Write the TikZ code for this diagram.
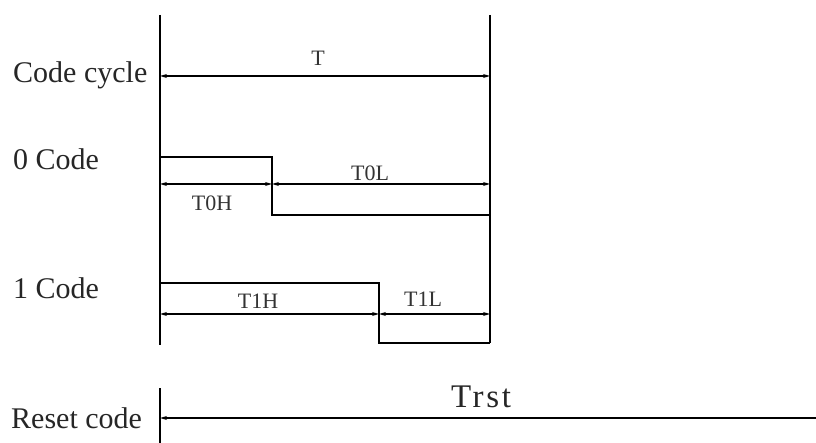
\documentclass[tikz,border=0pt]{standalone}
\usepackage{fontspec}
\setmainfont{Liberation Serif}
\newfontfamily\trstfont[LetterSpace=8]{Liberation Serif}
\usetikzlibrary{arrows.meta}

\begin{document}
\begin{tikzpicture}[x=1pt,y=-1pt,
  sig/.style={line width=1.3pt},
  dimline/.style={line width=1.6pt,{Stealth[length=7pt,width=4pt]}-{Stealth[length=7pt,width=4pt]}},
  lbl/.style={anchor=base west,inner sep=0pt,font=\fontsize{30}{36}\selectfont,text=black!85},
  tlbl/.style={anchor=base,inner sep=0pt,font=\fontsize{22}{26}\selectfont,text=black!80}]
\useasboundingbox (0,0) rectangle (816,443);

% left labels
\node[lbl](cycle) at (13,83){Code cycle};

\node[lbl](zero) at (13,170){0 Code};

\node[lbl](one) at (13,299){1 Code};

\node[lbl](reset) at (11,428){Reset code};

% frame lines
\coordinate (ltop) at (160,15);
\coordinate (lbot) at (160,345);
\coordinate (rtop) at (490,15);
\coordinate (rbot) at (490,343);
\coordinate (rsttop) at (160,388);
\coordinate (rstbot) at (160,443);

\draw[sig] (ltop) -- (lbot);
\draw[sig] (rtop) -- (rbot);
\draw[sig] (rsttop) -- (rstbot);

% code cycle
\coordinate (ta) at (160,76);
\coordinate (tb) at (490,76);
\draw[dimline] (ta) -- (tb);
\node[tlbl](T) at (318,66){T};

% 0 code
\coordinate (z1) at (160,157);
\coordinate (z2) at (272,157);
\coordinate (z3) at (272,215);
\coordinate (z4) at (490,215);
\draw[sig] (z1) -- (z2) -- (z3) -- (z4);

\coordinate (za) at (160,184);
\coordinate (zb) at (272,184);
\coordinate (zc) at (490,184);
\draw[dimline] (za) -- (zb);
\draw[dimline] (zb) -- (zc);
\node[tlbl](T0H) at (212,211){T0H};
\node[tlbl](T0L) at (370,181){T0L};

% 1 code
\coordinate (o1) at (160,283);
\coordinate (o2) at (379,283);
\coordinate (o3) at (379,343);
\coordinate (o4) at (490,343);
\draw[sig] (o1) -- (o2) -- (o3) -- (o4);

\coordinate (oa) at (160,314);
\coordinate (ob) at (379,314);
\coordinate (oc) at (490,314);
\draw[dimline] (oa) -- (ob);
\draw[dimline] (ob) -- (oc);
\node[tlbl](T1H) at (258,309){T1H};
\node[tlbl](T1L) at (423,307){T1L};

% reset code
\coordinate (ra) at (160,418);
\coordinate (rb) at (816,418);
\draw[line width=1.6pt,{Stealth[length=7pt,width=4pt]}-] (ra) -- (rb);
\node[anchor=base,inner sep=0pt,font=\trstfont\fontsize{33}{38}\selectfont,text=black!85](Trst) at (481,407){Trst};

\end{tikzpicture}
\end{document}
